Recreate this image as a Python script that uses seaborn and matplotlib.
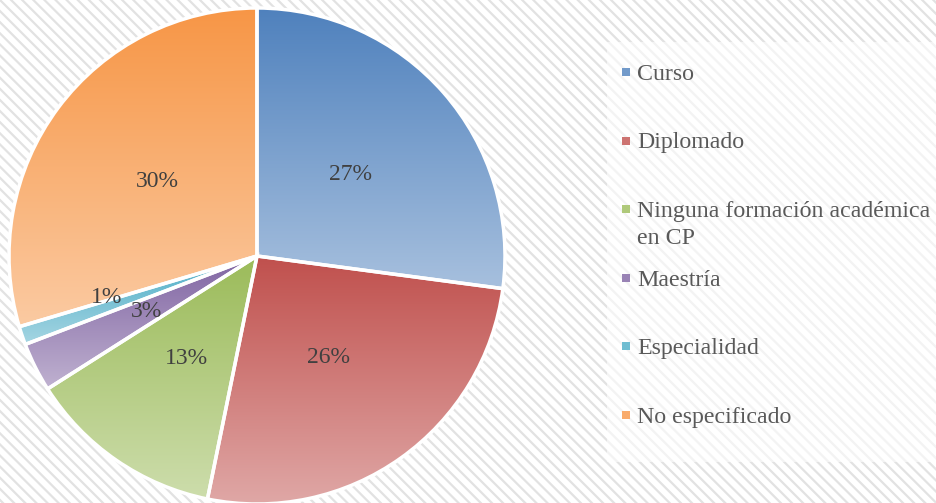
import numpy as np
import matplotlib
matplotlib.use("Agg")
import matplotlib.pyplot as plt
from matplotlib.colors import LinearSegmentedColormap, to_rgb
from matplotlib.patches import Rectangle
import seaborn as sns

# ---------- DATA ----------
categories = ["Curso", "Diplomado", "Ninguna formación académica\nen CP",
              "Maestría", "Especialidad", "No especificado"]
shares = [27.1, 26.1, 12.8, 3.2, 1.2, 29.6]
base_colors = ["#4F81BD", "#C0504D", "#9BBB59", "#8064A2", "#4BACC6", "#F79646"]
# --------------------------

W, H = 936, 503

sns.set_style("white")
plt.rcParams["font.family"] = ["Liberation Serif", "DejaVu Serif"]
plt.rcParams["hatch.linewidth"] = 1.6


def lighten(c, f):
    r = np.array(to_rgb(c))
    return tuple(r + (1 - r) * f)


def main():
    palette = sns.color_palette(base_colors)
    fig = plt.figure(figsize=(W / 100, H / 100), dpi=100)
    fig.patch.set_facecolor("white")

    # striped background
    bg = fig.add_axes([0, 0, 1, 1], zorder=0)
    bg.add_patch(Rectangle((0, 0), 1, 1, transform=bg.transAxes, facecolor="white",
                           edgecolor="#e2e2e2", hatch="\\\\\\", linewidth=0))
    bg.add_patch(Rectangle((607 / W, 1 - 462 / H), (W - 607) / W, 420 / H,
                           transform=bg.transAxes, facecolor="white", alpha=0.6, linewidth=0))
    bg.set_axis_off()

    # pie
    cx, cy, r = 257, 256, 248
    ax = fig.add_axes([(cx - r) / W, 1 - (cy + r) / H, 2 * r / W, 2 * r / H], zorder=1)
    ax.patch.set_alpha(0)
    wedges, texts, autotexts = ax.pie(
        shares, startangle=90, counterclock=False, autopct="%1.0f%%", pctdistance=0.5,
        wedgeprops=dict(edgecolor="white", linewidth=2.5),
        textprops=dict(fontsize=17, color="#404040"))

    grad = np.linspace(0, 1, 256).reshape(-1, 1)
    for w, col in zip(wedges, palette):
        cmap = LinearSegmentedColormap.from_list("g", [col, lighten(col, 0.5)])
        x0, y0, x1, y1 = w.get_path().get_extents().extents
        im = ax.imshow(grad, cmap=cmap, extent=[x0, x1, y0, y1], origin="upper",
                       aspect="auto", zorder=0.5, interpolation="bilinear")
        im.set_clip_path(w)
        w.set_facecolor("none")
        w.set_zorder(1)
        w.set_clip_on(False)

    # small slice label sits further out
    w = wedges[4]
    mid = np.deg2rad((w.theta1 + w.theta2) / 2)
    autotexts[4].set_position((0.64 * np.cos(mid), 0.64 * np.sin(mid) + 0.04))

    ax.set_xlim(-1, 1)
    ax.set_ylim(-1, 1)
    ax.set_aspect("equal")
    ax.set_axis_off()

    # legend drawn by hand so the marker lines up with the first text line
    baselines = [80, 148.5, 217, 285.5, 354, 422.5]
    for lab, col, b in zip(categories, palette, baselines):
        for k, line in enumerate(lab.split("\n")):
            fig.text(637 / W, 1 - (b + 27 * k) / H, line, fontsize=17.2, color="#595959",
                     va="baseline", ha="left", zorder=3)
        fig.add_artist(Rectangle((622 / W, 1 - (b - 4) / H), 8 / W, 8 / H,
                                 facecolor=lighten(col, 0.2), edgecolor="none",
                                 transform=fig.transFigure))

    fig.savefig("out.png", dpi=100)
    plt.close(fig)


if __name__ == "__main__":
    main()
